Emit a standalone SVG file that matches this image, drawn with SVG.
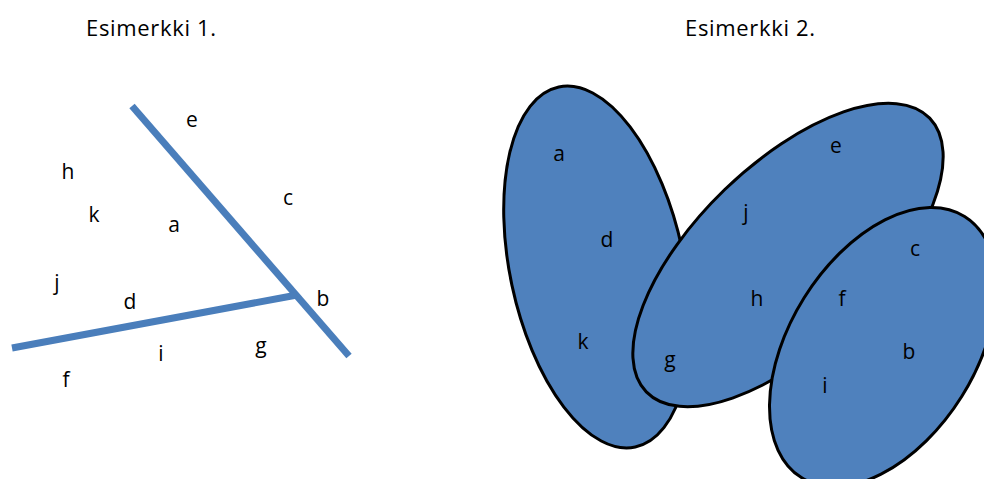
<svg xmlns="http://www.w3.org/2000/svg" width="984" height="479" viewBox="0 0 984 479">
<style>
  text { font-family: "Open Sans", "Noto Sans", "Liberation Sans", sans-serif; font-size: 21px; fill: #000; text-anchor: middle; }
  .title { font-size: 22px; }
  .wall { stroke: #4A7EBB; stroke-width: 7; fill: none; stroke-linecap: butt; }
  .set { fill: #4F81BD; stroke: #000; stroke-width: 3; }
</style>
<rect width="984" height="479" fill="#fff"/>
<text class="title" x="151" y="36" textLength="130" lengthAdjust="spacing">Esimerkki 1.</text>
<text class="title" x="750" y="36" textLength="130" lengthAdjust="spacing">Esimerkki 2.</text>

<g id="connectors">
  <line class="wall" x1="132" y1="106" x2="349" y2="356"/>
  <line class="wall" x1="12" y1="348" x2="297" y2="295"/>
</g>

<g id="example1-labels">
  <text x="192" y="127">e</text>
  <text x="68" y="179">h</text>
  <text x="94" y="222">k</text>
  <text x="174" y="232">a</text>
  <text x="288" y="205">c</text>
  <text x="57" y="290">j</text>
  <text x="130" y="309">d</text>
  <text x="323" y="306">b</text>
  <text x="161" y="361">i</text>
  <text x="261" y="353">g</text>
  <text x="66" y="387">f</text>
</g>

<g id="set1">
  <ellipse class="set" cx="597" cy="267" rx="87" ry="184" transform="rotate(-12 597 267)"/>
  <text x="559" y="161">a</text>
  <text x="607" y="247">d</text>
  <text x="583" y="349">k</text>
</g>
<g id="set2">
  <ellipse class="set" cx="788" cy="255" rx="197" ry="91" transform="rotate(-44 788 255)"/>
  <text x="670" y="367">g</text>
  <text x="746" y="220">j</text>
  <text x="836" y="153">e</text>
  <text x="757" y="306">h</text>
</g>
<g id="set3">
  <ellipse class="set" cx="883" cy="347" rx="154" ry="93" transform="rotate(-58 883 347)"/>
  <text x="842" y="306">f</text>
  <text x="915" y="256">c</text>
  <text x="909" y="359">b</text>
  <text x="825" y="393">i</text>
</g>
</svg>
